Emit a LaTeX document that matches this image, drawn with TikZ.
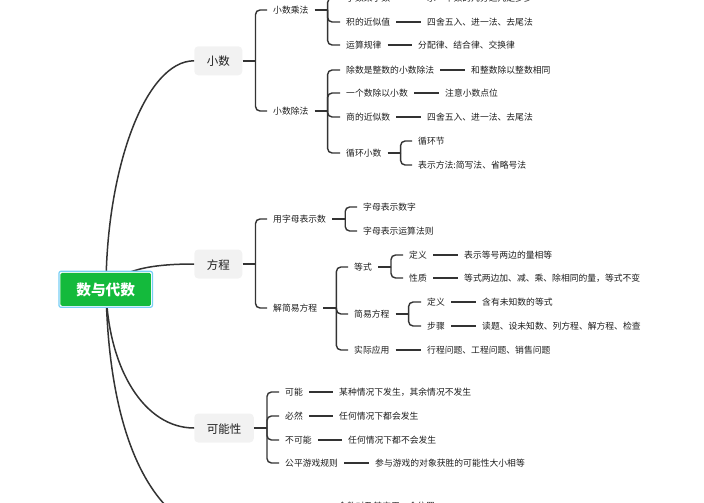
\documentclass[tikz,border=0pt]{standalone}
\usepackage{fontspec}
\usetikzlibrary{calc}
\setmainfont{Noto Sans CJK SC}
\definecolor{ln}{HTML}{333333}
\definecolor{tx}{HTML}{1E1E1E}
\definecolor{rootgreen}{HTML}{14BA3C}
\definecolor{rootframe}{HTML}{78CFF5}
\definecolor{topicbg}{HTML}{F2F2F2}
\tikzset{
 x=1pt,y=-1pt,
 lbl/.style={anchor=west,inner xsep=6pt,inner ysep=0pt,text height=8pt,text depth=1pt,font=\fontsize{8.8}{10}\selectfont,text=tx},
 topic/.style={fill=topicbg,rounded corners=4pt,minimum height=29pt,inner sep=0pt,text height=11pt,text depth=1pt,font=\fontsize{11.5}{13}\selectfont,text=tx},
 curve/.style={draw=ln,line width=1.5pt},
 leafline/.style={draw=ln,line width=1.5pt},
 stemline/.style={draw=ln,line width=1.9pt},
 wire/.style={draw=ln,line width=1.4pt,rounded corners=4.5pt},
}
\newcommand{\lb}[4]{\node[lbl] (#1) at (#2-6,#3) {#4};}
\newcommand{\stem}[1]{\draw[stemline] (#1.east) -- ++(13,0);}
\newcommand{\kid}[2]{\draw[wire] ($(#1.east)+(13,0)$) |- (#2.west);}
\newcommand{\leaf}[2]{\draw[leafline] (#1.east) -- (#2.west);}
\begin{document}
\begin{tikzpicture}
\useasboundingbox (0,0) rectangle (704,503);
\clip (0,0) rectangle (704,503);
\coordinate (rc) at (106,289);
\node[topic,minimum width=48pt] (a) at (218.3,60.8) {小数};
\node[topic,minimum width=48pt] (b) at (218.3,264) {方程};
\node[topic,minimum width=59.5pt] (c) at (224,428) {可能性};
\coordinate (d) at (166,506);
\draw[curve] (rc) .. controls (106,170) and (145,60.8) .. (a.west);
\draw[curve] (rc) .. controls (120,270) and (150,264) .. (b.west);
\draw[curve] (rc) .. controls (108,370) and (145,428) .. (c.west);
\draw[curve] (rc) .. controls (108,400) and (132,470) .. (d);
\node[draw=rootframe,line width=1.2pt,fill=white,rounded corners=2pt,minimum width=93.5pt,minimum height=36pt,inner sep=0pt] (rootbox) at (105.7,289.3) {};
\node[fill=rootgreen,rounded corners=1.5pt,minimum width=90.5pt,minimum height=33pt,inner sep=0pt,text height=14pt,text depth=1pt,text=white,font=\fontsize{14.7}{16}\selectfont\bfseries] (root) at (105.7,289.3) {数与代数};
% Decimals
\lb{a1}{273}{10}{小数乘法}
\lb{a2}{273}{111}{小数除法}
\lb{a11}{346}{-2}{小数乘小数}
\lb{a12}{346}{22}{积的近似值}
\lb{a13}{346}{45}{运算规律}
\lb{a110}{427}{-2}{求一个数的几分之几是多少}
\lb{a120}{427}{22}{四舍五入、进一法、去尾法}
\lb{a130}{418}{45}{分配律、结合律、交换律}
\lb{a21}{346}{70}{除数是整数的小数除法}
\lb{a22}{346}{93}{一个数除以小数}
\lb{a23}{346}{117}{商的近似数}
\lb{a24}{346}{153}{循环小数}
\lb{a210}{471}{70}{和整数除以整数相同}
\lb{a220}{445}{93}{注意小数点位}
\lb{a230}{427}{117}{四舍五入、进一法、去尾法}
\lb{a241}{418}{141}{循环节}
\lb{a242}{418}{165}{表示方法:简写法、省略号法}
% Equations
\lb{b1}{273}{219}{用字母表示数}
\lb{b2}{273}{308}{解简易方程}
\lb{b11}{363}{207}{字母表示数字}
\lb{b12}{363}{231}{字母表示运算法则}
\lb{b21}{354}{267}{等式}
\lb{b22}{354}{314}{简易方程}
\lb{b23}{354}{350}{实际应用}
\lb{b211}{409}{255}{定义}
\lb{b212}{409}{278}{性质}
\lb{b2110}{464}{255}{表示等号两边的量相等}
\lb{b2120}{464}{278}{等式两边加、减、乘、除相同的量，等式不变}
\lb{b221}{427}{302}{定义}
\lb{b222}{427}{326}{步骤}
\lb{b2210}{482}{302}{含有未知数的等式}
\lb{b2220}{482}{326}{读题、设未知数、列方程、解方程、检查}
\lb{b230}{427}{350}{行程问题、工程问题、销售问题}
% Possibility
\lb{c1}{285}{392}{可能}
\lb{c2}{285}{416}{必然}
\lb{c3}{285}{440}{不可能}
\lb{c4}{285}{463}{公平游戏规则}
\lb{c10}{339}{392}{某种情况下发生，其余情况不发生}
\lb{c20}{339}{416}{任何情况下都会发生}
\lb{c30}{348}{440}{任何情况下都不会发生}
\lb{c40}{375}{463}{参与游戏的对象获胜的可能性大小相等}
\lb{d1}{338}{506}{含数对及其应用、含位置}
% connectors
\stem{a}\kid{a}{a1}\kid{a}{a2}
\stem{a1}\kid{a1}{a11}\kid{a1}{a12}\kid{a1}{a13}
\stem{a2}\kid{a2}{a21}\kid{a2}{a22}\kid{a2}{a23}\kid{a2}{a24}
\leaf{a11}{a110}\leaf{a12}{a120}\leaf{a13}{a130}
\leaf{a21}{a210}\leaf{a22}{a220}\leaf{a23}{a230}
\stem{a24}\kid{a24}{a241}\kid{a24}{a242}
\stem{b}\kid{b}{b1}\kid{b}{b2}
\stem{b1}\kid{b1}{b11}\kid{b1}{b12}
\stem{b2}\kid{b2}{b21}\kid{b2}{b22}\kid{b2}{b23}
\stem{b21}\kid{b21}{b211}\kid{b21}{b212}
\stem{b22}\kid{b22}{b221}\kid{b22}{b222}
\leaf{b23}{b230}
\leaf{b211}{b2110}\leaf{b212}{b2120}\leaf{b221}{b2210}\leaf{b222}{b2220}
\stem{c}\kid{c}{c1}\kid{c}{c2}\kid{c}{c3}\kid{c}{c4}
\leaf{c1}{c10}\leaf{c2}{c20}\leaf{c3}{c30}\leaf{c4}{c40}
\end{tikzpicture}
\end{document}
